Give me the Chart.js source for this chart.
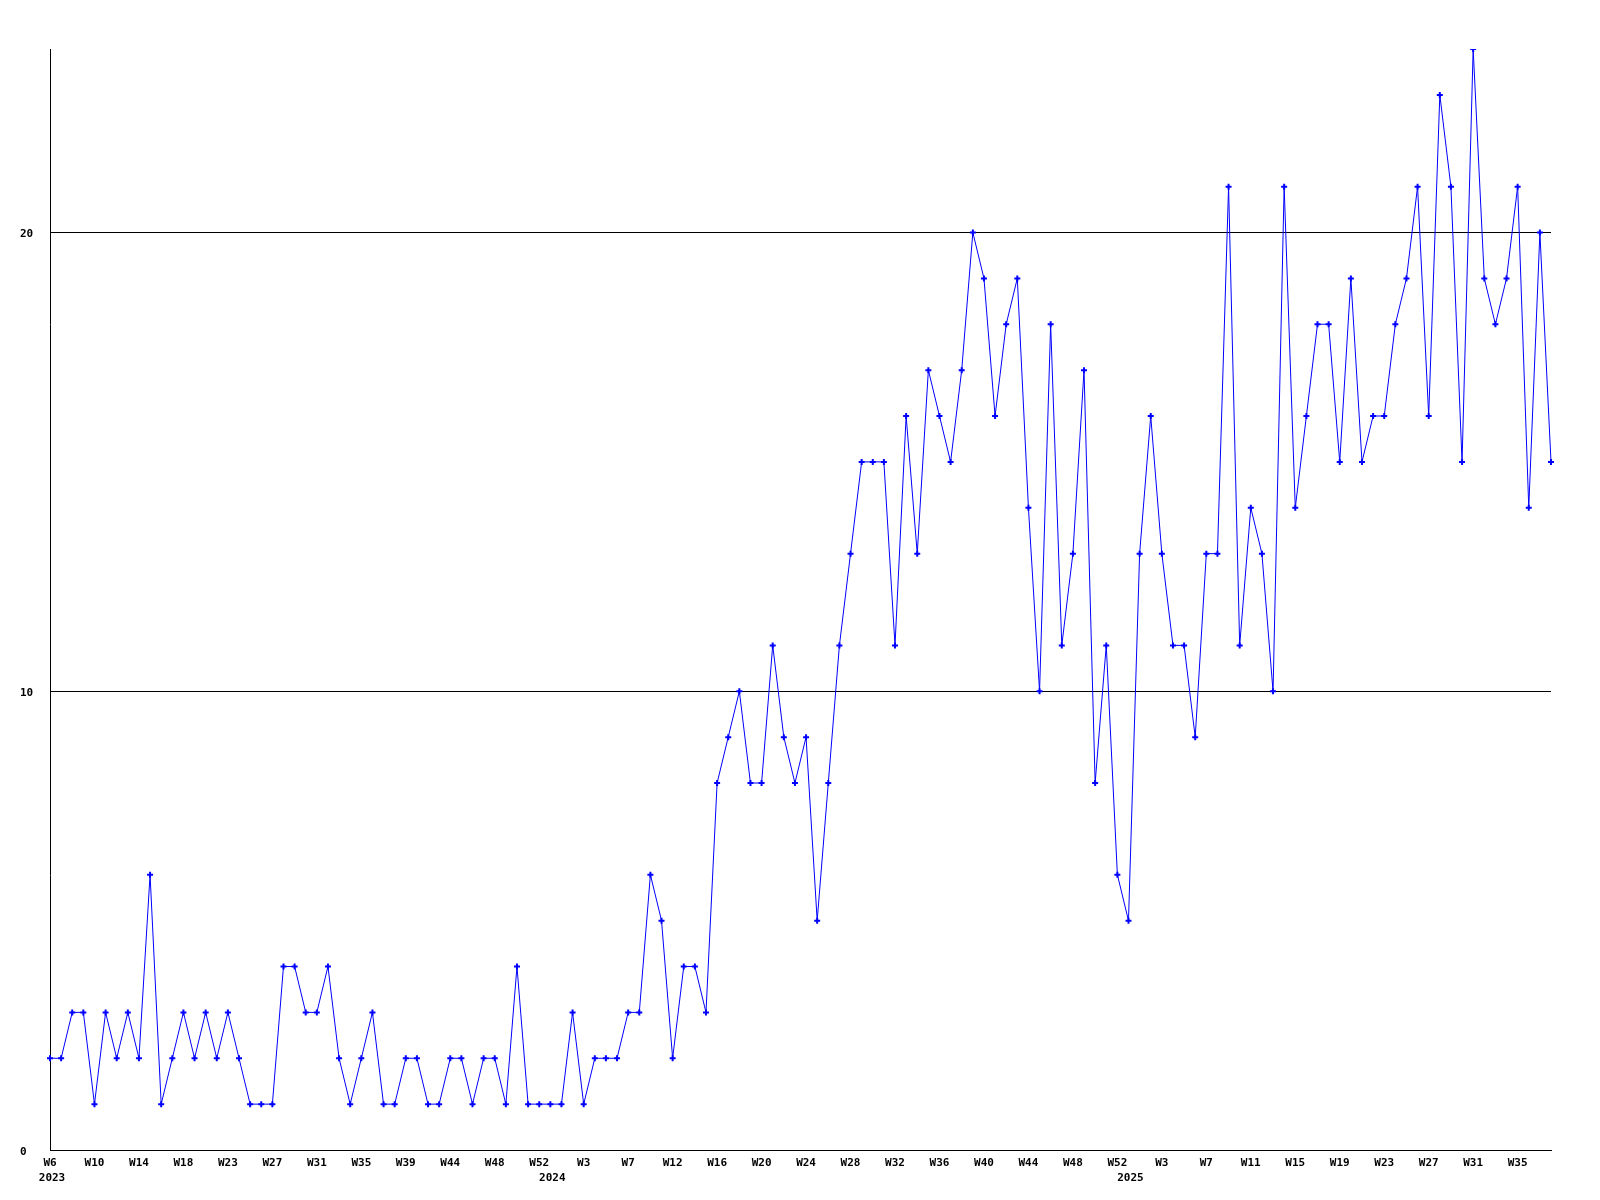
<!DOCTYPE html>
<html>
<head>
<meta charset="utf-8">
<script src="https://cdn.jsdelivr.net/npm/chart.js@4/dist/chart.umd.min.js"></script>
<style>
  html, body { margin: 0; padding: 0; background: #ffffff; }
  #wrap { width: 1600px; height: 1200px; }
</style>
</head>
<body>
<div id="wrap"><canvas id="c" width="1600" height="1200"></canvas></div>
<script>
// Weekly values, 2023 W6 -> 2025 W38
const values = [
  2, 2, 3, 3, 1, 3, 2, 3, 2, 6,
  1, 2, 3, 2, 3, 2, 3, 2, 1, 1,
  1, 4, 4, 3, 3, 4, 2, 1, 2, 3,
  1, 1, 2, 2, 1, 1, 2, 2, 1, 2,
  2, 1, 4, 1, 1, 1, 1, 3, 1, 2,
  2, 2, 3, 3, 6, 5, 2, 4, 4, 3,
  8, 9, 10, 8, 8, 11, 9, 8, 9, 5,
  8, 11, 13, 15, 15, 15, 11, 16, 13, 17,
  16, 15, 17, 20, 19, 16, 18, 19, 14, 10,
  18, 11, 13, 17, 8, 11, 6, 5, 13, 16,
  13, 11, 11, 9, 13, 13, 21, 11, 14, 13,
  10, 21, 14, 16, 18, 18, 15, 19, 15, 16,
  16, 18, 19, 21, 16, 23, 21, 15, 24, 19,
  18, 19, 21, 14, 20, 15
];

// Week tick labels (one every 4 points)
const weekTicks = [
  'W6', 'W10', 'W14', 'W18', 'W23', 'W27', 'W31', 'W35', 'W39', 'W44', 'W48', 'W52',
  'W3', 'W7', 'W12', 'W16', 'W20', 'W24', 'W28', 'W32', 'W36', 'W40', 'W44', 'W48', 'W52',
  'W3', 'W7', 'W11', 'W15', 'W19', 'W23', 'W27', 'W31', 'W35'
];

// Years and number of weekly points falling in each
const years = ['2023', '2024', '2025'];
const pointsPerYear = [45, 52, 39];

// Y-axis tick values
const yTicks = [0, 10, 20];
const yMax = 24;

// ---- build category labels from the arrays above ----
const TICK_EVERY = 4;
const categories = values.map((_, i) => (i % TICK_EVERY === 0 && weekTicks[i / TICK_EVERY]) ? weekTicks[i / TICK_EVERY] : '');
const yearLabels = values.map(() => '');
{
  let start = 0;
  years.forEach((y, k) => { yearLabels[start] = y; start += pointsPerYear[k]; });
}

const FONT = { family: "'DejaVu Sans Mono', 'Liberation Mono', monospace", size: 11, weight: 'bold' };
const BLUE = '#0000ff';

new Chart(document.getElementById('c'), {
  type: 'line',
  data: {
    labels: categories,
    datasets: [{
      data: values,
      borderColor: BLUE,
      borderWidth: 1,
      tension: 0,
      fill: false,
      pointStyle: 'cross',
      pointRadius: 3,
      pointBorderWidth: 2,
      pointBorderColor: BLUE,
      pointBackgroundColor: BLUE,
      pointHoverRadius: 3,
      xAxisID: 'x',
      yAxisID: 'y'
    }]
  },
  options: {
    responsive: false,
    animation: false,
    devicePixelRatio: 1,
    events: [],
    layout: { padding: { left: 20, right: 49, top: 49, bottom: 0 } },
    plugins: { legend: { display: false }, tooltip: { enabled: false } },
    scales: {
      x: {
        type: 'category',
        position: 'bottom',
        offset: false,
        grid: { display: false, drawTicks: false },
        border: { display: true, color: '#000000', width: 1 },
        ticks: {
          autoSkip: false, maxRotation: 0, minRotation: 0,
          color: '#000000', font: FONT, padding: 7
        },
        afterFit: (s) => { s.height = 20; }
      },
      x2: {
        type: 'category',
        position: 'bottom',
        labels: yearLabels,
        offset: false,
        grid: { display: false, drawTicks: false },
        border: { display: false },
        ticks: {
          autoSkip: false, maxRotation: 0, minRotation: 0,
          color: '#000000', font: FONT, padding: 2, labelOffset: 2
        },
        afterFit: (s) => { s.height = 30; }
      },
      y: {
        type: 'linear',
        min: 0,
        max: yMax,
        grid: { display: true, color: '#000000', lineWidth: 1, drawTicks: false },
        border: { display: true, color: '#000000', width: 1 },
        afterBuildTicks: (s) => { s.ticks = yTicks.map(v => ({ value: v })); },
        ticks: {
          color: '#000000', font: FONT, crossAlign: 'far', padding: 0, labelOffset: 2,
          callback: (v) => String(v)
        },
        afterFit: (s) => { s.width = 30; }
      }
    }
  }
});
</script>
</body>
</html>
